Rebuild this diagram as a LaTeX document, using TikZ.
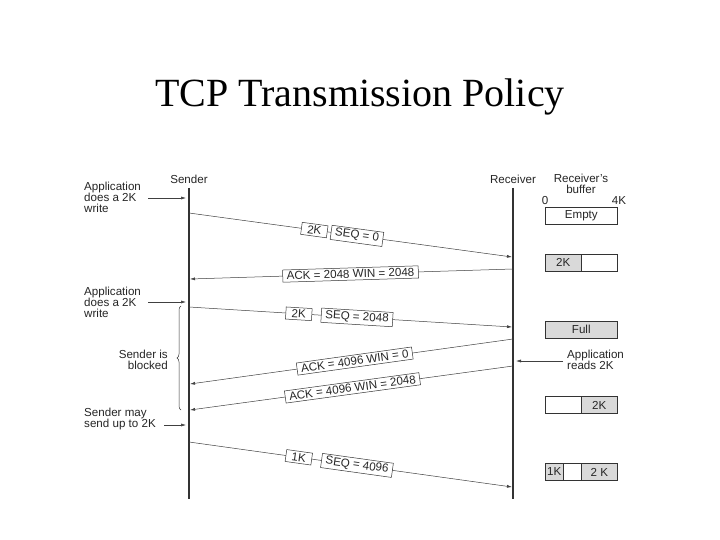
\documentclass[tikz,border=0pt]{standalone}
\usepackage{fontspec}
\setmainfont{Liberation Serif}
\setsansfont{Liberation Sans}
\usetikzlibrary{arrows.meta,decorations.pathreplacing}
\definecolor{bufgray}{HTML}{D9D9D9}
\begin{document}
\begin{tikzpicture}[x=1pt,y=-1pt,
  lbl/.style={font=\sffamily\fontsize{11.6}{11}\selectfont, inner sep=0pt, text=black!85},
  lifeline/.style={line width=1.1pt, black!80},
  msg/.style={line width=0.5pt, black!75, -{Latex[length=5pt,width=3pt]}},
  tag/.style={draw=black!80, line width=0.5pt, fill=white, text=black!85,
    font=\sffamily\fontsize{11.6}{11}\selectfont, inner xsep=4pt, inner ysep=2pt, sloped},
  buf/.style={draw=black!80, line width=0.6pt, minimum height=17pt, inner sep=0pt,
    font=\sffamily\fontsize{11.6}{11}\selectfont, text=black!85, anchor=west}]
\useasboundingbox (0,0) rectangle (720,540);
\fill[white] (0,0) rectangle (720,540);

% title
\node[font=\fontsize{40}{48}\selectfont, inner sep=0pt] (title) at (360,97) {TCP Transmission Policy};

% lifelines
\node[lbl] (sender) at (189,179) {Sender};
\node[lbl] (receiver) at (513,179) {Receiver};
\coordinate (stop) at (189,188);
\coordinate (sbot) at (189,499);
\coordinate (rtop) at (513,188);
\coordinate (rbot) at (513,499);
\draw[lifeline] (stop) -- (sbot);
\draw[lifeline] (rtop) -- (rbot);

% buffer header
\node[lbl, align=center] (bufhdr) at (581,183.5) {Receiver's\\buffer};
\node[lbl] (zero) at (545,201) {0};
\node[lbl] (fourk) at (619,201) {4K};

% buffers
\node[buf, minimum width=72pt] (b1) at (545,215.5) {Empty};
\node[buf, minimum width=36pt, fill=bufgray] (b2a) at (545,262.5) {2K};
\node[buf, minimum width=36pt] (b2b) at (581,262.5) {};
\node[buf, minimum width=72pt, fill=bufgray] (b3) at (545,329.5) {Full};
\node[buf, minimum width=36pt] (b4a) at (545,405) {};
\node[buf, minimum width=36pt, fill=bufgray] (b4b) at (581,405) {2K};
\node[buf, minimum width=18pt, fill=bufgray] (b5a) at (545,472) {1K};
\node[buf, minimum width=18pt] (b5b) at (563,472) {};
\node[buf, minimum width=36pt, fill=bufgray] (b5c) at (581,472) {2 K};

% left annotations
\node[lbl, align=left, anchor=west] (app1) at (84,197) {Application\\does a 2K\\write};
\coordinate (a1s) at (148,198);
\coordinate (a1e) at (186,198);
\draw[msg] (a1s) -- (a1e);

\node[lbl, align=left, anchor=west] (app2) at (84,302) {Application\\does a 2K\\write};
\coordinate (a2s) at (148,302);
\coordinate (a2e) at (186,302);
\draw[msg] (a2s) -- (a2e);

\node[lbl, align=left, anchor=west] (may) at (84,418.5) {Sender may\\send up to 2K};
\coordinate (a3s) at (164,425);
\coordinate (a3e) at (186,425);
\draw[msg] (a3s) -- (a3e);

\coordinate (bb) at (181,410);
\coordinate (bt) at (181,306);
\draw[line width=0.5pt, black!80, decorate, decoration={brace, amplitude=4pt}] (bb) -- (bt);
\node[lbl, align=right, anchor=east] (blocked) at (168,360) {Sender is\\blocked};

% right annotation
\node[lbl, align=left, anchor=west] (reads) at (567,360) {Application\\reads 2K};
\coordinate (rds) at (563,361);
\coordinate (rde) at (516,361);
\draw[msg] (rds) -- (rde);

% messages
\coordinate (m1s) at (189,213);
\coordinate (m1e) at (512,257);
\draw[msg] (m1s) -- node[tag, pos=0.388, minimum width=26pt] {2K} node[tag, pos=0.52] {SEQ = 0} (m1e);

\coordinate (k1s) at (513,269);
\coordinate (k1e) at (190,279);
\draw[msg] (k1s) -- node[tag, pos=0.503] {ACK = 2048 WIN = 2048} (k1e);

\coordinate (m2s) at (189,307);
\coordinate (m2e) at (512,327);
\draw[msg] (m2s) -- node[tag, pos=0.34, minimum width=26pt] {2K} node[tag, pos=0.52] {SEQ = 2048} (m2e);

\coordinate (k2s) at (513,339);
\coordinate (k2e) at (190,384);
\draw[msg] (k2s) -- node[tag, pos=0.49] {ACK = 4096 WIN = 0} (k2e);

\coordinate (k3s) at (513,366);
\coordinate (k3e) at (190,410);
\draw[msg] (k3s) -- node[tag, pos=0.497] {ACK = 4096 WIN = 2048} (k3e);

\coordinate (m3s) at (189,442);
\coordinate (m3e) at (512,487);
\draw[msg] (m3s) -- node[tag, pos=0.34, minimum width=26pt] {1K} node[tag, pos=0.52] {SEQ = 4096} (m3e);
\end{tikzpicture}
\end{document}
